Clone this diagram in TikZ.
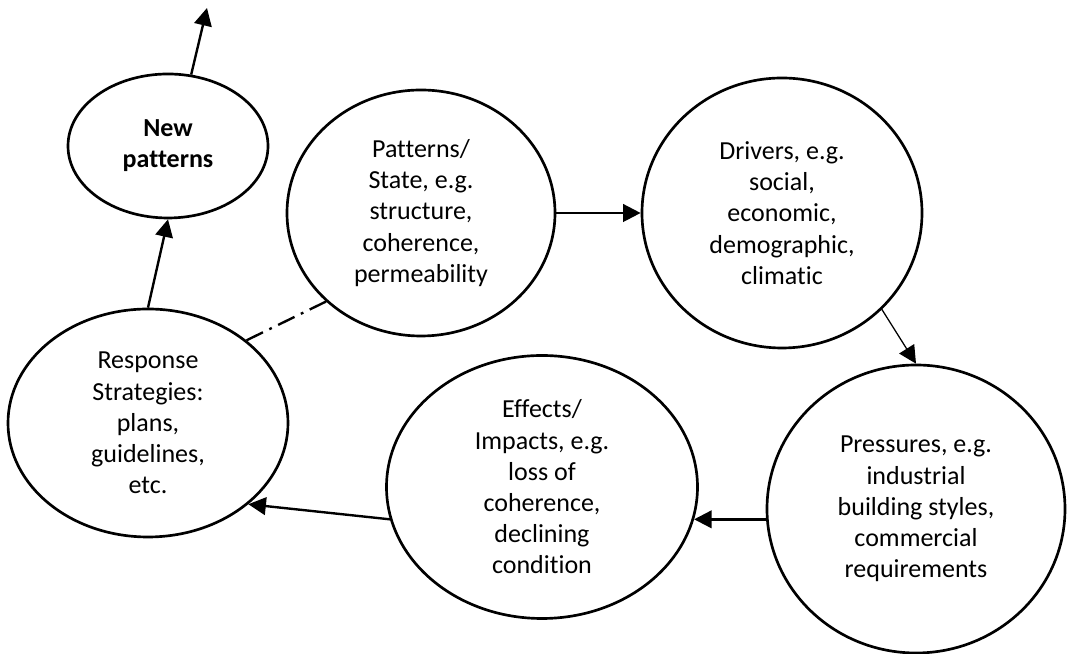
\documentclass[tikz,border=0pt]{standalone}
\usepackage{fontspec}
\setmainfont{Carlito}[Ligatures={NoCommon}]
\usetikzlibrary{shapes, arrows.meta, positioning}

\begin{document}
\begin{tikzpicture}[
  blob/.style={ellipse, draw, line width=1.9pt, align=center, inner sep=0pt, font=\fontsize{18.5}{22.2}\selectfont},
  link/.style={-{Triangle[length=12.5pt, width=12.5pt]}, line width=1.7pt},
]
  \useasboundingbox (0,0) rectangle (26.75,16.35);

  % stages of the cycle
  \node[blob, minimum width=5cm, minimum height=3.6cm, font=\fontsize{18.5}{22.2}\selectfont\bfseries] (newpat) at (4.2,12.7) {New\\patterns};
  \node[blob, minimum width=6.7cm, minimum height=6.15cm] (state) at (10.525,11.025) {Patterns/\\State, e.g.\\structure,\\coherence,\\permeability};
  \node[blob, minimum width=7cm, minimum height=6.75cm] (drivers) at (19.55,11.025) {Drivers, e.g.\\social,\\economic,\\demographic,\\climatic};
  \node[blob, minimum width=7.45cm, minimum height=7.2cm] (pressures) at (22.9,3.625) {Pressures, e.g.\\industrial\\building styles,\\commercial\\requirements};
  \node[blob, minimum width=7.775cm, minimum height=6.575cm] (effects) at (13.55,4.175) {Effects/\\Impacts, e.g.\\loss of\\coherence,\\declining\\condition};
  \node[blob, minimum width=7cm, minimum height=5.7cm] (response) at (3.7,5.775) {Response\\Strategies:\\plans,\\guidelines,\\etc.};

  \coordinate (onward) at (5.175,16.15);

  % links between stages
  \draw[link] (newpat.72) -- (onward);
  \draw[link] (response.north) -- (newpat.south);
  \draw[line width=1.7pt, dash pattern=on 13pt off 5pt on 2pt off 5pt] (response.40) -- (state.223);
  \draw[link] (state.east) -- (drivers.west);
  \draw[link, line width=0.9pt] (drivers.-44) -- (pressures.north);
  \draw[link] (effects.348 -| pressures.west) -- (effects.348);
  \draw[link] (effects.192) -- (response.321);
\end{tikzpicture}
\end{document}
